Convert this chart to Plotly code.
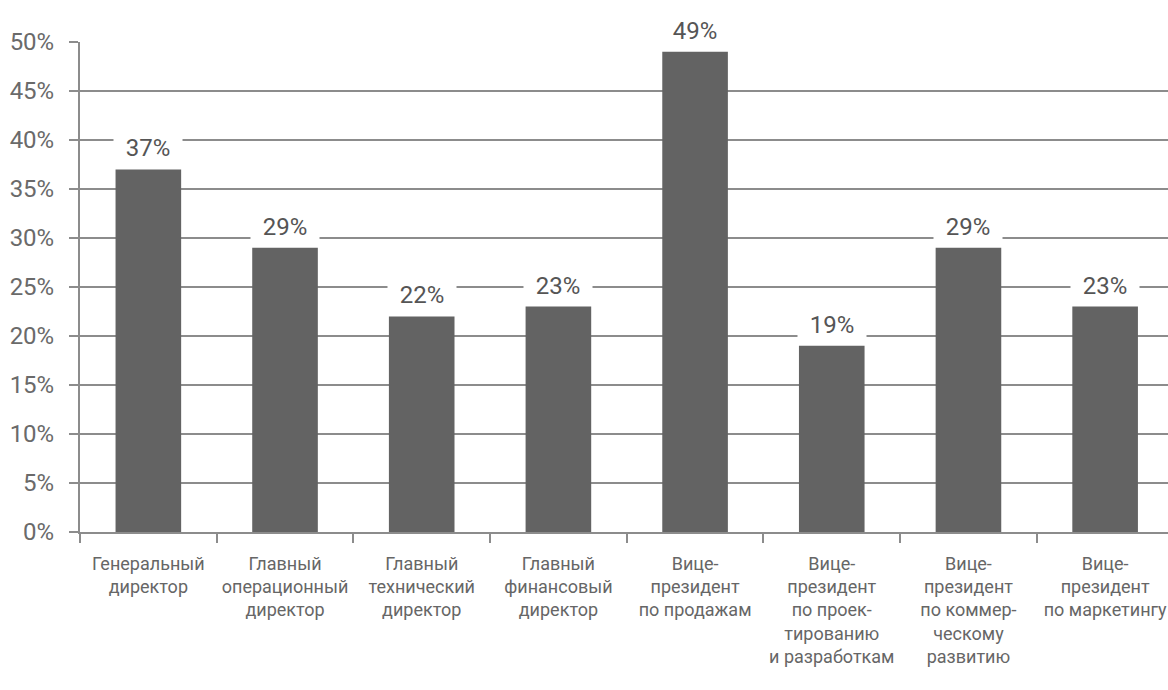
import plotly.graph_objects as go

categories = [
    "Генеральный<br>директор",
    "Главный<br>операционный<br>директор",
    "Главный<br>технический<br>директор",
    "Главный<br>финансовый<br>директор",
    "Вице-<br>президент<br>по продажам",
    "Вице-<br>президент<br>по проек-<br>тированию<br>и разработкам",
    "Вице-<br>президент<br>по коммер-<br>ческому<br>развитию",
    "Вице-<br>президент<br>по маркетингу",
]
values = [37, 29, 22, 23, 49, 19, 29, 23]
y_ticks = [0, 5, 10, 15, 20, 25, 30, 35, 40, 45, 50]
y_tick_labels = [f"{t}%" for t in y_ticks]

FONT = "Roboto, DejaVu Sans Condensed, sans-serif"
BAR = "#636363"
LINE = "#8c8c8c"

idx = list(range(len(categories)))

fig = go.Figure(
    go.Bar(
        x=idx,
        y=values,
        width=0.48,
        marker=dict(color=BAR, line=dict(width=0)),
        hoverinfo="skip",
    )
)

# value labels on a white box that interrupts the gridline behind them
for i, v in zip(idx, values):
    fig.add_annotation(
        x=i, y=v, xref="x", yref="y",
        text=f"{v}%",
        showarrow=False,
        yanchor="bottom",
        yshift=4,
        width=66,
        height=30,
        bgcolor="white",
        font=dict(family=FONT, size=24, color="#555555"),
    )

fig.update_layout(
    width=1168,
    height=690,
    margin=dict(l=80, r=0, t=42, b=158),
    plot_bgcolor="white",
    paper_bgcolor="white",
    showlegend=False,
    font=dict(family=FONT, color="#666666"),
)

fig.update_xaxes(
    type="category",
    tickmode="array",
    tickvals=idx,
    ticktext=categories,
    tickson="boundaries",
    tickangle=0,
    automargin=False,
    showgrid=False,
    ticks="outside",
    ticklen=9,
    tickwidth=2,
    tickcolor=LINE,
    showline=True,
    linecolor=LINE,
    linewidth=2,
    tickfont=dict(family=FONT, size=18, color="#666666"),
    ticklabelstandoff=14,
    zeroline=False,
)
fig.update_xaxes(range=[-0.5, 7.46])

fig.update_yaxes(
    range=[0, 50],
    tickmode="array",
    tickvals=y_ticks,
    ticktext=y_tick_labels,
    automargin=False,
    showgrid=True,
    gridcolor=LINE,
    gridwidth=2,
    ticks="outside",
    ticklen=9,
    tickwidth=2,
    tickcolor=LINE,
    showline=True,
    linecolor=LINE,
    linewidth=2,
    zeroline=False,
    tickfont=dict(family=FONT, size=24, color="#6a6a6a"),
    ticklabelstandoff=10,
)

fig.write_html("out.html")
